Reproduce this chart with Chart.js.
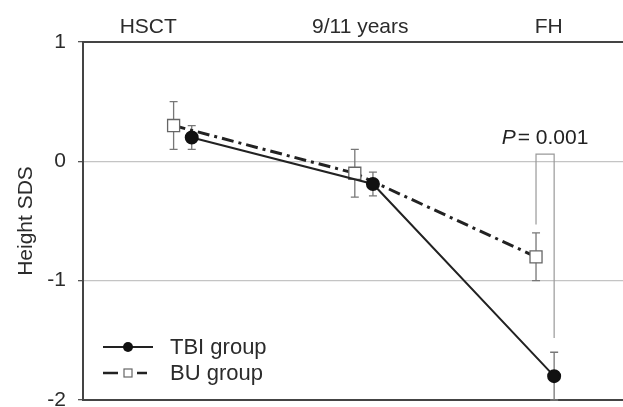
<!DOCTYPE html>
<html lang="en">
<head>
<meta charset="UTF-8">
<title>Height SDS by group</title>
<script src="https://cdn.jsdelivr.net/npm/chart.js"></script>
<style>
  html, body { margin: 0; padding: 0; background: #fff; }
  .chart-container { position: relative; width: 623px; height: 407px; }
</style>
</head>
<body>
<div class="chart-container"><canvas id="sdsChart"></canvas></div>
<script>
// values
const categories = ['HSCT', '9/11 years', 'FH'];
const categoryLabelPos = [-0.19, 0.98, 2.02];
const tbiMean = [0.2, -0.19, -1.8];
const tbiErr = [0.1, 0.1, 0.2];
const buMean = [0.3, -0.1, -0.8];
const buErr = [0.2, 0.2, 0.2];
const bracketX = [1.95, 1.95, 2.05, 2.05];
const bracketY = [-0.53, 0.06, 0.06, -1.48];
const pValue = '0.001';
const yTicks = [-2, -1, 0, 1];

const OFFSET = 0.05;   // groups are nudged apart at each time point
const FONT = "'Liberation Sans', Arial, sans-serif";
const TEXT = '#2b2b2b';

function points(means, shift) {
    return means.map((v, i) => ({x: i + shift, y: v}));
}

const errorBars = {
    id: 'errorBars',
    beforeDatasetsDraw(chart) {
        const {ctx, scales: {x, y}} = chart;
        ctx.save();
        ctx.strokeStyle = '#777';
        ctx.lineWidth = 1.3;
        [[tbiMean, tbiErr, OFFSET], [buMean, buErr, -OFFSET]].forEach(([m, e, s]) => {
            m.forEach((v, i) => {
                const px = x.getPixelForValue(i + s);
                const top = y.getPixelForValue(v + e[i]);
                const bot = y.getPixelForValue(v - e[i]);
                ctx.beginPath();
                ctx.moveTo(px, top); ctx.lineTo(px, bot);
                ctx.moveTo(px - 4, top); ctx.lineTo(px + 4, top);
                ctx.moveTo(px - 4, bot); ctx.lineTo(px + 4, bot);
                ctx.stroke();
            });
        });
        ctx.restore();
    }
};

const annotations = {
    id: 'annotations',
    afterDraw(chart) {
        const {ctx, chartArea: area, scales: {x, y}} = chart;
        ctx.save();

        // p value above the bracket
        const cx = (x.getPixelForValue(bracketX[1]) + x.getPixelForValue(bracketX[2])) / 2;
        const by = y.getPixelForValue(bracketY[1]) - 10;
        ctx.fillStyle = '#222';
        ctx.textBaseline = 'alphabetic';
        ctx.font = 'italic 21px ' + FONT;
        const pW = ctx.measureText('P').width;
        ctx.font = '21px ' + FONT;
        const rest = '= ' + pValue;
        const rW = ctx.measureText(rest).width;
        const tx = cx - (pW + 2 + rW) / 2;
        ctx.font = 'italic 21px ' + FONT;
        ctx.textAlign = 'left';
        ctx.fillText('P', tx, by);
        ctx.font = '21px ' + FONT;
        ctx.fillText(rest, tx + pW + 2, by);

        // legend, lower left inside the plot
        const lx = area.left + 20, ly1 = area.bottom - 53, ly2 = area.bottom - 27;
        ctx.strokeStyle = '#222';
        ctx.lineWidth = 2;
        ctx.beginPath();
        ctx.moveTo(lx, ly1); ctx.lineTo(lx + 50, ly1);
        ctx.stroke();
        ctx.fillStyle = '#111';
        ctx.beginPath();
        ctx.arc(lx + 25, ly1, 5, 0, Math.PI * 2);
        ctx.fill();

        ctx.lineWidth = 2.5;
        ctx.beginPath();
        ctx.moveTo(lx, ly2); ctx.lineTo(lx + 15, ly2);
        ctx.moveTo(lx + 34, ly2); ctx.lineTo(lx + 44, ly2);
        ctx.stroke();
        ctx.fillStyle = '#fff';
        ctx.strokeStyle = '#666';
        ctx.lineWidth = 1.2;
        ctx.fillRect(lx + 21, ly2 - 4, 8, 8);
        ctx.strokeRect(lx + 21, ly2 - 4, 8, 8);

        ctx.fillStyle = TEXT;
        ctx.font = '22px ' + FONT;
        ctx.textBaseline = 'middle';
        ctx.fillText('TBI group', lx + 67, ly1 + 1);
        ctx.fillText('BU group', lx + 67, ly2 + 1);
        ctx.restore();
    }
};

const ctx = document.getElementById('sdsChart').getContext('2d');
new Chart(ctx, {
    type: 'line',
    data: {
        datasets: [
            {
                label: 'TBI group',
                data: points(tbiMean, OFFSET),
                borderColor: '#222',
                borderWidth: 2,
                pointStyle: 'circle',
                pointRadius: 6,
                pointBackgroundColor: '#111',
                pointBorderColor: '#111',
                order: 0
            },
            {
                label: 'BU group',
                data: points(buMean, -OFFSET),
                borderColor: '#222',
                borderWidth: 3,
                borderDash: [12, 5, 3, 5],
                pointStyle: 'rect',
                pointRadius: 8.5,
                pointBackgroundColor: '#fff',
                pointBorderColor: '#666',
                pointBorderWidth: 1.3,
                order: 1
            },
            {
                label: 'bracket',
                data: bracketX.map((v, i) => ({x: v, y: bracketY[i]})),
                borderColor: '#999',
                borderWidth: 1.2,
                pointRadius: 0,
                order: 3
            }
        ]
    },
    options: {
        responsive: true,
        maintainAspectRatio: false,
        animation: false,
        events: [],
        layout: {padding: 0, autoPadding: false},
        plugins: {legend: {display: false}, tooltip: {enabled: false}},
        scales: {
            x: {
                type: 'linear',
                position: 'top',
                min: -0.55,
                max: 2.43,
                afterBuildTicks: axis => { axis.ticks = categoryLabelPos.map(v => ({value: v})); },
                afterFit: axis => { axis.height = 42; axis.paddingLeft = 0; axis.paddingRight = 0; },
                grid: {display: false, drawTicks: false},
                border: {display: true, color: '#444', width: 2},
                ticks: {
                    callback: (v, i) => categories[i],
                    font: {family: FONT, size: 21},
                    color: TEXT,
                    padding: 2,
                    maxRotation: 0,
                    autoSkip: false
                }
            },
            xb: {
                type: 'linear',
                position: 'bottom',
                min: -0.55,
                max: 2.43,
                afterFit: axis => { axis.height = 7; axis.paddingLeft = 0; axis.paddingRight = 0; },
                grid: {display: false, drawTicks: false},
                ticks: {display: false},
                border: {display: true, color: '#444', width: 2}
            },
            y: {
                min: -2,
                max: 1,
                afterBuildTicks: axis => { axis.ticks = yTicks.map(v => ({value: v})); },
                afterFit: axis => { axis.width = 83; axis.paddingTop = 0; axis.paddingBottom = 0; },
                grid: {
                    color: c => (c.tick && (c.tick.value === 0 || c.tick.value === -1)) ? '#c4c4c4' : 'rgba(0,0,0,0)',
                    tickColor: '#555',
                    tickLength: 5,
                    lineWidth: 1.3
                },
                border: {display: true, color: '#444', width: 2},
                ticks: {font: {family: FONT, size: 21}, color: TEXT, padding: 12},
                title: {
                    display: true,
                    text: 'Height SDS',
                    font: {family: FONT, size: 21},
                    color: TEXT,
                    padding: {top: 14, bottom: 0}
                }
            }
        }
    },
    plugins: [errorBars, annotations]
});
</script>
</body>
</html>
